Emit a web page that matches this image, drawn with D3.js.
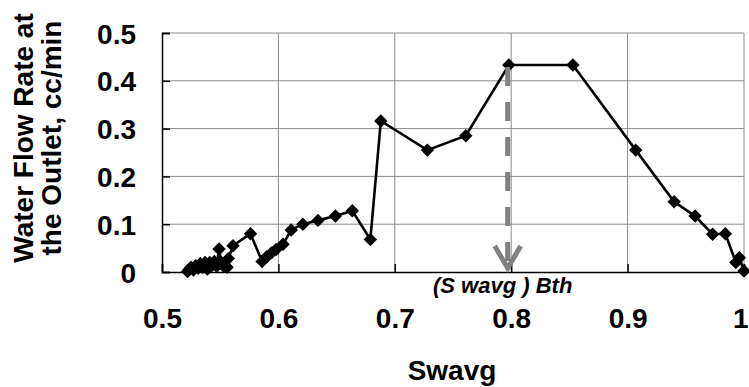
<!DOCTYPE html>
<html><head><meta charset="utf-8">
<script src="https://cdn.jsdelivr.net/npm/d3@7"></script>
<style>body{margin:0;background:#fff;}svg{display:block;font-family:"Liberation Sans",Arial,sans-serif;}</style>
</head><body>
<svg id="c" width="749" height="387"></svg>
<script>
const swavg = [0.522,0.5235,0.525,0.527,0.529,0.531,0.533,0.535,0.537,0.539,0.541,0.543,0.545,0.547,0.549,0.551,0.553,0.556,0.557,0.561,0.576,0.586,0.590,0.594,0.598,0.604,0.611,0.621,0.634,0.649,0.6635,0.679,0.688,0.728,0.761,0.798,0.853,0.907,0.940,0.958,0.973,0.984,0.993,0.996,1.0];
const flowRate = [0.001,0.006,0.010,0.004,0.013,0.008,0.018,0.010,0.020,0.006,0.020,0.014,0.022,0.012,0.048,0.020,0.012,0.010,0.028,0.055,0.080,0.022,0.032,0.040,0.047,0.058,0.088,0.100,0.108,0.117,0.128,0.068,0.316,0.255,0.285,0.433,0.433,0.255,0.147,0.117,0.079,0.080,0.020,0.030,0.002];
const xTicks = [0.5,0.6,0.7,0.8,0.9,1.0];
const xTickLabels = ["0.5","0.6","0.7","0.8","0.9","1"];
const yTicks = [0,0.1,0.2,0.3,0.4,0.5];
const yTickLabels = ["0","0.1","0.2","0.3","0.4","0.5"];
const thresholdX = 0.797;
const thresholdY = 0.433;

const svg = d3.select("#c");
const L=162, R=744, T=33, B=272;
const x = d3.scaleLinear().domain([0.5,1.0]).range([L,R]);
const y = d3.scaleLinear().domain([0,0.5]).range([B,T]);

// grid
const g = svg.append("g");
g.selectAll(".vg").data(xTicks.slice(1)).enter().append("line")
  .attr("x1",d=>x(d)).attr("x2",d=>x(d)).attr("y1",T).attr("y2",B)
  .attr("stroke","#8a8a8a").attr("stroke-width",1);
g.selectAll(".hg").data(yTicks.slice(1)).enter().append("line")
  .attr("x1",L).attr("x2",R).attr("y1",d=>y(d)).attr("y2",d=>y(d))
  .attr("stroke","#8a8a8a").attr("stroke-width",1);

// axes
const xAxis = d3.axisBottom(x).tickValues(xTicks).tickSize(-8).tickFormat((d,i)=>xTickLabels[i]).tickPadding(0);
const yAxis = d3.axisLeft(y).tickValues(yTicks).tickSize(-8).tickFormat((d,i)=>yTickLabels[i]).tickPadding(0);
const gx = svg.append("g").attr("transform",`translate(0,${B})`).call(xAxis);
const gy = svg.append("g").attr("transform",`translate(${L},0)`).call(yAxis);
[gx,gy].forEach(a=>{
  a.select(".domain").attr("stroke","#000").attr("stroke-width",1.5);
  a.selectAll(".tick line").attr("stroke","#000").attr("stroke-width",1.5);
  a.selectAll("text").attr("fill","#000").style("font-size","28px").style("font-weight","bold").style("font-family","'Liberation Sans',Arial,sans-serif");
});
gx.selectAll("text").attr("y",56).attr("dy",null);
gx.selectAll(".tick").filter(d=>d===1.0).select("text").attr("text-anchor","end").attr("x",4);
gy.selectAll("text").attr("x",-26).attr("dy","0.36em");

// data line
const pts = swavg.map((v,i)=>[v,flowRate[i]]);
svg.append("path").datum(pts)
  .attr("d",d3.line().x(d=>x(d[0])).y(d=>y(d[1])))
  .attr("fill","none").attr("stroke","#000").attr("stroke-width",2.6);
svg.selectAll(".m").data(pts).enter().append("path")
  .attr("transform",d=>`translate(${x(d[0])},${y(d[1])})`)
  .attr("d",d3.symbol().type(d3.symbolDiamond2).size(115))
  .attr("fill","#000");

// threshold arrow
const ax = x(thresholdX);
svg.append("line").attr("x1",ax).attr("x2",ax).attr("y1",y(thresholdY)+2).attr("y2",B-6)
  .attr("stroke","#808080").attr("stroke-width",5).attr("stroke-dasharray","19,16");
svg.append("path")
  .attr("d",`M${ax-13},${B-26} L${ax},${B-4} L${ax+13},${B-26}`)
  .attr("fill","none").attr("stroke","#808080").attr("stroke-width",5);
svg.append("text").attr("x",433).attr("y",293)
  .text("(S wavg ) Bth")
  .style("font-size","22px").style("font-weight","bold").style("font-style","italic").attr("fill","#000");

// axis titles
svg.append("text").attr("x",452).attr("y",380).attr("text-anchor","middle")
  .text("Swavg").style("font-size","28px").style("font-weight","bold");
const yt = svg.append("text").attr("transform","translate(0,138) rotate(-90)").attr("text-anchor","middle")
  .style("font-size","28px").style("font-weight","bold");
yt.append("tspan").attr("x",0).attr("y",33).text("Water Flow Rate at");
yt.append("tspan").attr("x",0).attr("y",61).text("the Outlet, cc/min");
</script>
</body></html>
